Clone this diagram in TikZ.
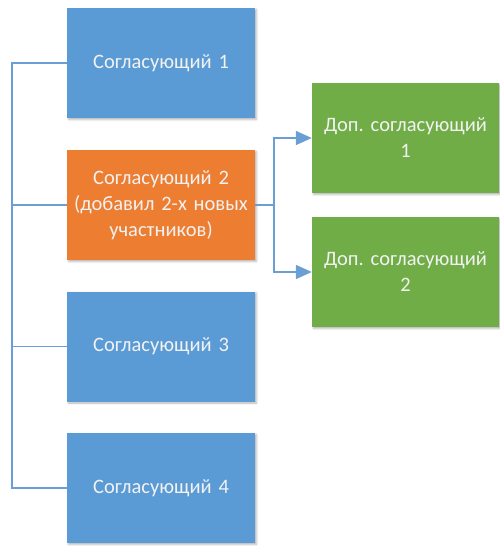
\documentclass[tikz,border=0pt]{standalone}
\usepackage{fontspec}
\setmainfont{Carlito}
\usepackage{xcolor}
\usetikzlibrary{arrows.meta,shadows.blur}
\definecolor{boxblue}{HTML}{5B9BD5}
\definecolor{boxorange}{HTML}{ED7D31}
\definecolor{boxgreen}{HTML}{70AD47}
\definecolor{linkblue}{HTML}{6A9FD6}
\begin{document}
\begin{tikzpicture}[x=1pt, y=-1pt,
  box/.style={draw=none, align=center, font=\fontsize{20.5}{26}\selectfont, text=white!95!black, minimum height=110pt, inner sep=2pt,
    blur shadow={shadow xshift=1.5pt, shadow yshift=-1.5pt, shadow blur steps=4, shadow opacity=30}},
  bbox/.style={box, fill=boxblue, minimum width=188pt, text width=184pt},
  obox/.style={box, fill=boxorange, minimum width=188pt, text width=184pt},
  gbox/.style={box, fill=boxgreen, minimum width=187pt, text width=183pt},
  lnk/.style={draw=linkblue, line width=1.6pt},
  arr/.style={lnk, -{Triangle[length=16pt, width=14pt]}}
]
\useasboundingbox (0,0) rectangle (500,546);
\coordinate (bus)  at (12,0);
\coordinate (fork) at (274,0);
\node[bbox] (s1) at (161,63)    {Согласующий 1};
\node[obox] (s2) at (161,205)   {Согласующий 2\\(добавил 2-х новых\\участников)};
\node[bbox] (s3) at (161,346.5) {Согласующий 3};
\node[bbox] (s4) at (161,488)   {Согласующий 4};
\node[gbox] (d1) at (405.5,138) {Доп.\ согласующий\\1};
\node[gbox] (d2) at (405.5,272) {Доп.\ согласующий\\2};
\draw[lnk] (s1.west) -- (s1.west -| bus) |- (s4.west);
\draw[lnk] (s2.west) -- (s2.west -| bus);
\draw[lnk] (s3.west) -- (s3.west -| bus);
\draw[arr] (s2.east) -- (s2.east -| fork) |- (d1.west);
\draw[arr] (s2.east) -- (s2.east -| fork) |- (d2.west);
\end{tikzpicture}
\end{document}
